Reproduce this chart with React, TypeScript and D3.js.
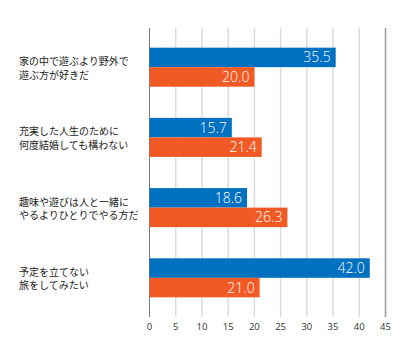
import { useEffect, useRef } from 'react';
import * as d3 from 'd3';

const categories = [
  ['家の中で遊ぶより野外で', '遊ぶ方が好きだ'],
  ['充実した人生のために', '何度結婚しても構わない'],
  ['趣味や遊びは人と一緒に', 'やるよりひとりでやる方だ'],
  ['予定を立てない', '旅をしてみたい'],
];
const seriesBlue = [35.5, 15.7, 18.6, 42.0];
const seriesOrange = [20.0, 21.4, 26.3, 21.0];
const tickValues = [0, 5, 10, 15, 20, 25, 30, 35, 40, 45];

const App = () => {
  const svgRef = useRef<SVGSVGElement>(null!);
  const width = 420;
  const height = 360;

  useEffect(() => {
    const svg = d3.select(svgRef.current);
    svg.selectAll('*').remove();

    const x0 = 149.5;
    const x1 = 385.5;
    const top = 28;
    const bottom = 317;

    const xScale = d3.scaleLinear().domain([0, 45]).range([x0, x1]);
    const yScale = d3
      .scaleBand<number>()
      .domain(d3.range(categories.length))
      .range([top, bottom])
      .paddingInner(0.444)
      .paddingOuter(0.28);
    const inner = d3.scaleBand<string>().domain(['a', 'b']).range([0, yScale.bandwidth()]);

    // grid
    svg
      .selectAll('line.grid')
      .data(tickValues)
      .enter()
      .append('line')
      .attr('x1', d => xScale(d))
      .attr('x2', d => xScale(d))
      .attr('y1', top)
      .attr('y2', bottom)
      .attr('stroke', d => (d === 0 ? '#7a7a7a' : d === 45 ? '#9a9a9a' : '#dcdcdc'))
      .attr('stroke-width', d => (d === 0 ? 1 : 1.5));

    const data = categories.map((c, i) => ({ i, blue: seriesBlue[i], orange: seriesOrange[i] }));
    const rows = [
      { key: 'a', color: '#0070c0', values: seriesBlue },
      { key: 'b', color: '#f15a24', values: seriesOrange },
    ];

    rows.forEach(r => {
      svg
        .append('g')
        .selectAll('rect')
        .data(r.values)
        .enter()
        .append('rect')
        .attr('x', xScale(0))
        .attr('y', (_, i) => yScale(i)! + inner(r.key)!)
        .attr('width', d => xScale(d) - xScale(0))
        .attr('height', inner.bandwidth())
        .attr('fill', r.color);

      svg
        .append('g')
        .selectAll('text')
        .data(r.values)
        .enter()
        .append('text')
        .attr('x', d => xScale(d) - 5)
        .attr('y', (_, i) => yScale(i)! + inner(r.key)! + inner.bandwidth() / 2)
        .attr('dy', '0.36em')
        .attr('text-anchor', 'end')
        .attr('fill', '#fff')
        .style('font-family', '"Open Sans", sans-serif')
        .style('font-weight', '300')
        .style('font-size', '14px')
        .text(d => d.toFixed(1));
    });

    // category labels
    const lab = svg
      .append('g')
      .selectAll('text')
      .data(data)
      .enter()
      .append('text')
      .attr('fill', '#222')
      .style('font-family', '"Noto Sans CJK JP", sans-serif')
      .style('font-size', '10px');
    lab
      .append('tspan')
      .attr('x', 19)
      .attr('y', d => yScale(d.i)! + yScale.bandwidth() / 2 - 5.5)
      .attr('dy', '0.35em')
      .text(d => categories[d.i][0]);
    lab
      .append('tspan')
      .attr('x', 19)
      .attr('y', d => yScale(d.i)! + yScale.bandwidth() / 2 + 8)
      .attr('dy', '0.35em')
      .text(d => categories[d.i][1]);

    // x tick labels
    svg
      .append('g')
      .selectAll('text')
      .data(tickValues)
      .enter()
      .append('text')
      .attr('x', d => xScale(d))
      .attr('y', 327)
      .attr('dy', '0.35em')
      .attr('text-anchor', 'middle')
      .attr('fill', '#333')
      .style('font-family', '"Open Sans", sans-serif')
      .style('font-size', '9.5px')
      .text(d => String(d));

    return () => {
      svg.selectAll('*').remove();
    };
  }, []);

  return (
    <svg
      ref={svgRef}
      width={width}
      height={height}
      style={{ position: 'absolute', left: 0, top: 0, background: '#fff' }}
    ></svg>
  );
};

export default App;
